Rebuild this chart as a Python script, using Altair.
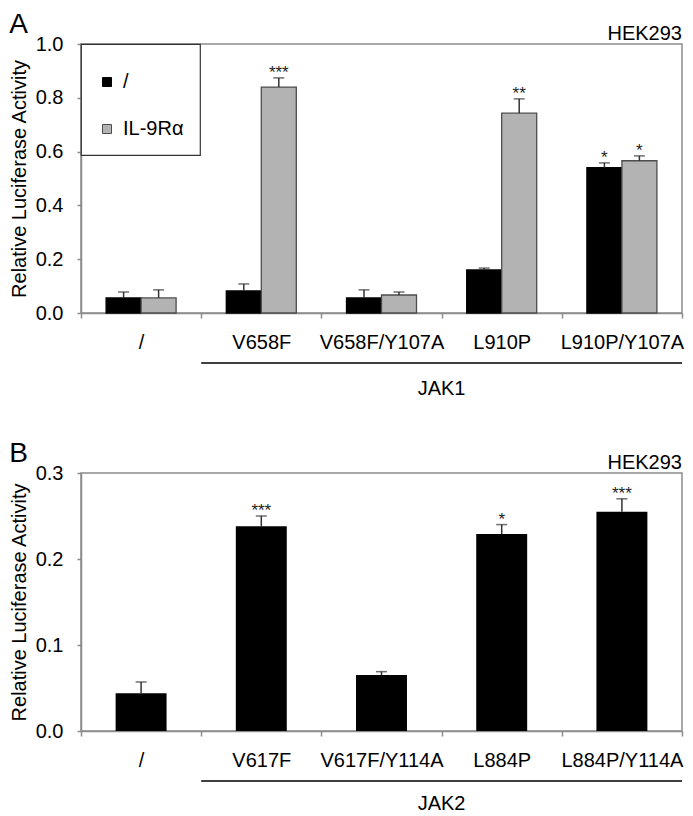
import altair as alt
import pandas as pd

F = "Liberation Sans"

# ---------------- data ----------------
series = ["/", "IL-9Rα"]

cats_A = ["/", "V658F", "V658F/Y107A", "L910P", "L910P/Y107A"]
black_A = [0.056, 0.082, 0.056, 0.160, 0.540]
black_A_err = [0.078, 0.108, 0.086, 0.167, 0.558]
black_A_sig = ["", "", "", "", "*"]
grey_A = [0.056, 0.840, 0.067, 0.743, 0.566]
grey_A_err = [0.086, 0.874, 0.078, 0.796, 0.584]
grey_A_sig = ["", "***", "", "**", "*"]
group_A = "JAK1"

cats_B = ["/", "V617F", "V617F/Y114A", "L884P", "L884P/Y114A"]
vals_B = [0.044, 0.238, 0.065, 0.229, 0.255]
vals_B_err = [0.057, 0.250, 0.069, 0.240, 0.270]
sig_B = ["", "***", "", "*", "***"]
group_B = "JAK2"

cell = "HEK293"
ytitle = "Relative Luciferase Activity"
yticks_A = [0.0, 0.2, 0.4, 0.6, 0.8, 1.0]
yticks_B = [0.0, 0.1, 0.2, 0.3]

# ---------------- frames ----------------
dfA = pd.DataFrame({
    "cat": cats_A * 2,
    "series": [series[0]] * 5 + [series[1]] * 5,
    "value": black_A + grey_A,
    "err": black_A_err + grey_A_err,
    "sig": black_A_sig + grey_A_sig,
})
dfB = pd.DataFrame({"cat": cats_B, "value": vals_B, "err": vals_B_err, "sig": sig_B})

W = 601
HA = 269
HB = 258
AXIS_GREY = "#8c8c8c"
ERR = "#333333"


def xaxis():
    return alt.Axis(title=None, labelAngle=0, labelFontSize=20, labelColor="black",
                    tickBand="extent", tickSize=5, labelPadding=14,
                    domainColor=AXIS_GREY, tickColor=AXIS_GREY, domainWidth=1.5, tickWidth=1.5)


def yaxis(vals):
    return alt.Axis(title=ytitle, values=vals, format=".1f", grid=False,
                    labelFontSize=20, labelColor="black", labelPadding=14, tickSize=4,
                    titleFontSize=20, titleFontWeight="normal", titleColor="black", titlePadding=6,
                    domainColor=AXIS_GREY, tickColor=AXIS_GREY, domainWidth=1.5, tickWidth=1.5)


def panel_extras(cats, group, H, gdy):
    hek = alt.Chart(pd.DataFrame({"t": [cell]})).mark_text(
        align="right", baseline="alphabetic", fontSize=20, font=F, color="black"
    ).encode(text="t:N", x=alt.value(W), y=alt.value(-4))
    line = alt.Chart(pd.DataFrame({"g": [group]})).mark_rule(color="black", strokeWidth=1.5).encode(
        x=alt.XDatum(cats[1], type="nominal", bandPosition=0),
        x2=alt.X2Datum(cats[-1], bandPosition=1),
        y=alt.value(H + 50),
    )
    gtext = alt.Chart(pd.DataFrame({"g": [group]})).mark_text(
        fontSize=20, font=F, baseline="middle", color="black"
    ).encode(text="g:N", x=alt.XDatum(cats[3], type="nominal", bandPosition=0), y=alt.value(H + gdy))
    return [hek, line, gtext]


def letter(s):
    return alt.Title(s, anchor="start", frame="bounds", fontSize=28, font=F, fontWeight="normal",
                     color="black", offset=-15)


# ---------------- panel A ----------------
xA = alt.X("cat:N", sort=cats_A, scale=alt.Scale(domain=cats_A, paddingInner=0, paddingOuter=0), axis=xaxis())
xoffA = alt.XOffset("series:N", sort=series,
                    scale=alt.Scale(domain=series, paddingInner=0, paddingOuter=0.717))
yA = alt.Y("value:Q", scale=alt.Scale(domain=[0, 1], nice=False), axis=yaxis(yticks_A))

baseA = alt.Chart(dfA)
barsA = baseA.mark_bar(strokeWidth=1.3).encode(
    x=xA, xOffset=xoffA, y=yA,
    fill=alt.Fill("series:N", scale=alt.Scale(domain=series, range=["#000000", "#b3b3b3"]),
                  legend=alt.Legend(title=" ", titleFontSize=10, titlePadding=2,
                                    orient="top-left", offset=0, padding=16, rowPadding=27,
                                    labelFontSize=20, labelFont=F, labelColor="black", labelOffset=6,
                                    symbolType="square", symbolSize=81, symbolStrokeColor="#333",
                                    symbolStrokeWidth=1, fillColor="white", strokeColor="#333")),
    stroke=alt.Stroke("series:N", scale=alt.Scale(domain=series, range=["#000000", "#4d4d4d"]), legend=None),
)
errA = baseA.mark_rule(color=ERR, strokeWidth=1.5).encode(x=xA, xOffset=xoffA, y="value:Q", y2="err:Q")
capA = baseA.mark_tick(color=ERR, thickness=1.5, size=11).encode(x=xA, xOffset=xoffA, y="err:Q")
sigA = baseA.mark_text(fontSize=17, font=F, baseline="alphabetic", color="#222").encode(
    x=xA, xOffset=xoffA, y="err:Q", text="sig:N")

panelA = alt.layer(barsA, errA, capA, sigA, *panel_extras(cats_A, group_A, HA, 76)).properties(
    width=W, height=HA, title=letter("A"),
)

# ---------------- panel B ----------------
xB = alt.X("cat:N", sort=cats_B, scale=alt.Scale(domain=cats_B, paddingInner=0, paddingOuter=0), axis=xaxis())
yB = alt.Y("value:Q", scale=alt.Scale(domain=[0, 0.3], nice=False), axis=yaxis(yticks_B))
baseB = alt.Chart(dfB)
barsB = baseB.mark_bar(color="black", width=alt.RelativeBandSize(0.424)).encode(x=xB, y=yB)
errB = baseB.mark_rule(color=ERR, strokeWidth=1.5).encode(x=xB, y="value:Q", y2="err:Q")
capB = baseB.mark_tick(color=ERR, thickness=1.5, size=11).encode(x=xB, y="err:Q")
sigB = baseB.mark_text(fontSize=17, font=F, baseline="alphabetic", color="#222").encode(
    x=xB, y="err:Q", text="sig:N")

panelB = alt.layer(barsB, errB, capB, sigB, *panel_extras(cats_B, group_B, HB, 73)).properties(
    width=W, height=HB, title=letter("B"),
)

chart = alt.vconcat(panelA, panelB, spacing=39).properties(
    padding={"left": 0, "top": 2, "right": 0, "bottom": 0}
).configure_view(stroke=AXIS_GREY, strokeWidth=1.5).configure_axis(
    labelFont=F, titleFont=F
).configure_legend(strokeWidth=1.2).configure_text(font=F)

chart.save("out.html", embed_options={"renderer": "svg", "actions": False})
